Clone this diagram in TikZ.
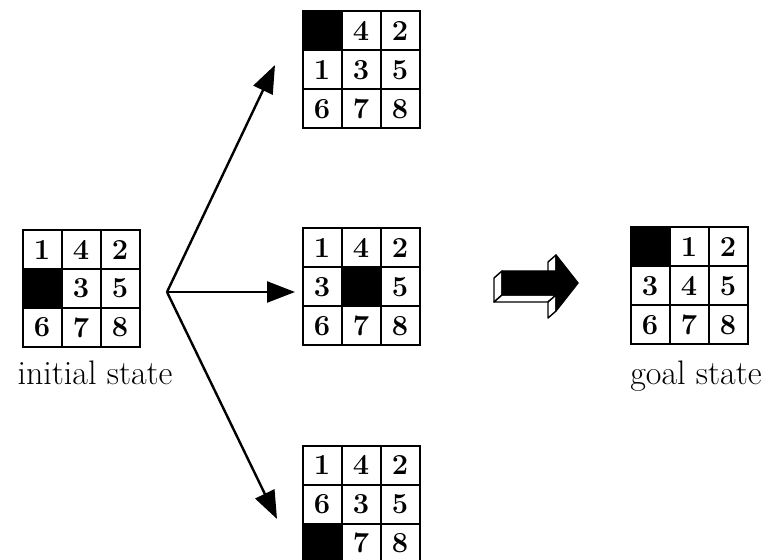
\documentclass[tikz,border=0pt]{standalone}
\usepackage{tikz}
\usetikzlibrary{arrows.meta}

\tikzset{
  cell/.style={draw, line width=1pt, minimum size=19.5pt, inner sep=0pt,
    font=\fontsize{14.5}{14.5}\selectfont\bfseries},
  hole/.style={cell, fill=black},
  caption/.style={anchor=base, inner sep=0pt, font=\fontsize{17}{20}\selectfont},
  move/.style={line width=1.2pt, -{Triangle[length=14pt,width=10.5pt]}},
  face/.style={fill=white, draw=black, line width=0.7pt, line join=round}
}

% board: name, centre x, centre y, the nine tiles (0 = blank)
\newcommand{\board}[4]{
  \foreach \v [count=\k from 0] in {#4} {
    \pgfmathsetmacro\cx{#2+(mod(\k,3)-1)*39}
    \pgfmathsetmacro\cy{#3+(int(\k/3)-1)*39}
    \ifnum\v=0
      \node [hole] (#1\k) at (\cx,\cy) {};
    \else
      \node [cell] (#1\k) at (\cx,\cy) {\v};
    \fi
  }
}

\begin{document}
\begin{tikzpicture}[x=0.5pt,y=-0.5pt]
		\useasboundingbox (0,0) rectangle (769,560);

		\board{init}{81}{288.5}{1,4,2,0,3,5,6,7,8}
		\board{up}{361}{70}{0,4,2,1,3,5,6,7,8}
		\board{mid}{361}{287}{1,4,2,3,0,5,6,7,8}
		\board{down}{361}{504}{1,4,2,6,3,5,0,7,8}
		\board{goal}{689}{286}{0,1,2,3,4,5,6,7,8}

		\node [caption] (initlabel) at (95,385) {initial state};
		\node [caption] (goallabel) at (696,384) {goal state};

		\coordinate (fork) at (167,292);
		\coordinate (uptip) at (275,65);
		\coordinate (midtip) at (295,292);
		\coordinate (downtip) at (277,519);
		\draw [move] (fork) to (uptip);
		\draw [move] (fork) to (midtip);
		\draw [move] (fork) to (downtip);

		% the big block arrow
		\draw [face] (502,271) -- (502,295) -- (494,302) -- (494,278) -- cycle;
		\draw [face] (502,295) -- (556,295) -- (548,302) -- (494,302) -- cycle;
		\draw [face] (556,295) -- (556,311) -- (548,318) -- (548,302) -- cycle;
		\draw [face] (556,255) -- (556,271) -- (548,278) -- (548,262) -- cycle;
		\filldraw [line width=0.7pt, line join=round] (502,271) -- (556,271) -- (556,255) -- (578,283)
			-- (556,311) -- (556,295) -- (502,295) -- cycle;
\end{tikzpicture}
\end{document}
